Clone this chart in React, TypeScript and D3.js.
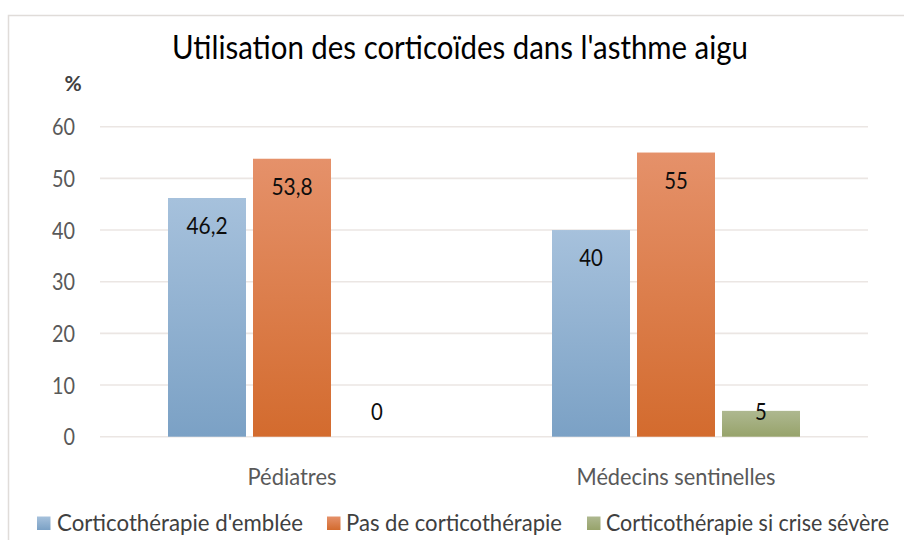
import React from "react";
import * as d3 from "d3";

const title = "Utilisation des corticoïdes dans l'asthme aigu";
const yAxisTitle = "%";
const categories = ["Pédiatres", "Médecins sentinelles"];
const seriesNames = [
  "Corticothérapie d'emblée",
  "Pas de corticothérapie",
  "Corticothérapie si crise sévère",
];
const emblee = [46.2, 40];
const pasCortico = [53.8, 55];
const siCrise = [0, 5];
const yTicks = [0, 10, 20, 30, 40, 50, 60];

const seriesValues = [emblee, pasCortico, siCrise];
const gradients = [
  ["#a6c1dc", "#7ba1c5"],
  ["#e5916a", "#d36b2e"],
  ["#aeb890", "#97a36b"],
];

const W = 904;
const H = 540;
const FONT = "Lato, 'Open Sans', sans-serif";

// measured text widths
const titleWidth = 576;
const catWidths = [89, 199];
const legendX = [37, 327, 587];
const legendTextX = [57, 346, 606];
const legendTextW = [246, 216, 283];

export default function App() {
  const y = d3.scaleLinear().domain([0, 60]).range([436.7, 126.7]);
  const x0 = d3.scaleBand<string>().domain(categories).range([100, 868]);
  const groupW = 248;
  const x1 = d3
    .scaleBand<string>()
    .domain(seriesNames)
    .range([0, groupW])
    .paddingInner(7 / 85);
  const off = (x0.bandwidth() - groupW) / 2;
  const fmt = (v: number) => String(v).replace(".", ",");

  return (
    <svg
      width={W}
      height={H}
      style={{ position: "absolute", left: 0, top: 0, background: "#fff" }}
      fontFamily={FONT}
    >
      <defs>
        {gradients.map((g, i) => (
          <linearGradient key={i} id={`grad${i}`} x1="0" y1="0" x2="0" y2="1">
            <stop offset="0" stopColor={g[0]} />
            <stop offset="1" stopColor={g[1]} />
          </linearGradient>
        ))}
      </defs>
      <rect x={0} y={0} width={W} height={H} fill="#fff" />
      <rect
        x={8.5}
        y={15.5}
        width={W + 10}
        height={H + 10}
        fill="none"
        stroke="#e0dcd9"
        strokeWidth={1.5}
      />
      <text
        x={460}
        y={59}
        textAnchor="middle"
        fontSize={32}
        fill="#000"
        textLength={titleWidth}
        lengthAdjust="spacingAndGlyphs"
      >
        {title}
      </text>
      <text x={73} y={91} textAnchor="middle" fontSize={21} fontWeight="bold" fill="#404040">
        {yAxisTitle}
      </text>
      {yTicks.map((t) => (
        <g key={t}>
          <line
            x1={100}
            x2={868}
            y1={y(t)}
            y2={y(t)}
            stroke="#ebe6e3"
            strokeWidth={1.6}
          />
          <text
            x={75}
            y={y(t) + 8.5}
            textAnchor="end"
            fontSize={23.5}
            fill="#595959"
            textLength={t === 0 ? 11.5 : 23}
            lengthAdjust="spacingAndGlyphs"
          >
            {t}
          </text>
        </g>
      ))}
      {categories.map((c, ci) => (
        <g key={c}>
          {seriesNames.map((s, si) => {
            const v = seriesValues[si][ci];
            const bx = (x0(c) as number) + off + (x1(s) as number);
            const top = y(v);
            const base = y(0);
            const ly = Math.min(top + 36, base - 16.5);
            const label = fmt(v);
            return (
              <g key={s}>
                {v > 0 && (
                  <rect
                    x={bx}
                    y={top}
                    width={x1.bandwidth()}
                    height={base - top}
                    fill={`url(#grad${si})`}
                  />
                )}
                <text
                  x={bx + x1.bandwidth() / 2}
                  y={ly}
                  textAnchor="middle"
                  fontSize={23.5}
                  fill="#0d0d0d"
                  textLength={label.length * 11.8 - (label.includes(",") ? 6 : 0)}
                  lengthAdjust="spacingAndGlyphs"
                >
                  {label}
                </text>
              </g>
            );
          })}
          <text
            x={(x0(c) as number) + x0.bandwidth() / 2}
            y={485}
            textAnchor="middle"
            fontSize={23.5}
            fill="#595959"
            textLength={catWidths[ci]}
            lengthAdjust="spacingAndGlyphs"
          >
            {c}
          </text>
        </g>
      ))}
      {seriesNames.map((s, si) => (
        <g key={s}>
          <rect
            x={legendX[si]}
            y={516.5}
            width={13.5}
            height={13.5}
            fill={`url(#grad${si})`}
          />
          <text
            x={legendTextX[si]}
            y={530.5}
            fontSize={23.5}
            fill="#404040"
            textLength={legendTextW[si]}
            lengthAdjust="spacingAndGlyphs"
          >
            {s}
          </text>
        </g>
      ))}
    </svg>
  );
}
